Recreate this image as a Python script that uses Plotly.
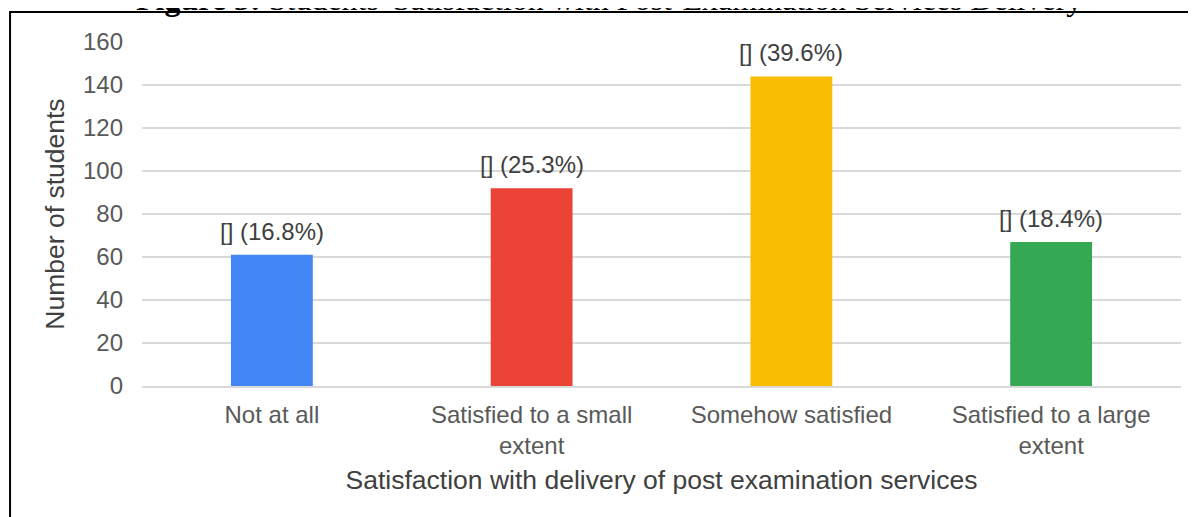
import plotly.graph_objects as go

categories = ["Not at all", "Satisfied to a small<br>extent", "Somehow satisfied", "Satisfied to a large<br>extent"]
counts = [61, 92, 144, 67]
percent_labels = ["[] (16.8%)", "[] (25.3%)", "[] (39.6%)", "[] (18.4%)"]
bar_colors = ["#4285F4", "#EA4335", "#FBBC04", "#34A853"]
y_ticks = [0, 20, 40, 60, 80, 100, 120, 140, 160]

fig = go.Figure()
fig.add_trace(go.Bar(x=categories, y=counts, marker=dict(color=bar_colors, line=dict(width=0)),
                     hoverinfo="skip"))

for c, v, t in zip(categories, counts, percent_labels):
    fig.add_annotation(x=c, y=v, text=t, showarrow=False, yanchor="bottom", yshift=8,
                       font=dict(family="Liberation Sans, Arial", size=24, color="#404040"))

fig.add_annotation(xref="paper", yref="paper", x=0.4495, y=1.068, yanchor="bottom", showarrow=False,
                   text="<b>Figure 5:</b> Students' Satisfaction with Post-Examination Services Delivery",
                   font=dict(family="Liberation Serif, Times New Roman, serif", size=32, color="#000000"))

fig.add_shape(type="rect", xref="paper", yref="paper", x0=-0.127, x1=1.2, y0=-0.6, y1=1.087,
              line=dict(color="#000000", width=2), fillcolor="rgba(0,0,0,0)", layer="below")

fig.update_layout(
    width=1188, height=509,
    margin=dict(l=134, r=15, t=34, b=131),
    paper_bgcolor="white", plot_bgcolor="white",
    bargap=0.685,
    showlegend=False,
    font=dict(family="Liberation Sans, Arial", size=24, color="#595959"),
    xaxis=dict(showgrid=False, showline=True, linecolor="#d9d9d9", linewidth=2, ticks="",
               ticklabelstandoff=6,
               tickfont=dict(size=24, color="#595959"),
               title=dict(text="Satisfaction with delivery of post examination services",
                          font=dict(size=26.5, color="#404040"), standoff=12)),
    yaxis=dict(range=[0, 160], tickvals=y_ticks, showgrid=True, gridcolor="#d9d9d9", gridwidth=2,
               zeroline=False, showline=False, ticks="", ticklabelstandoff=18,
               tickfont=dict(size=24, color="#595959"),
               title=dict(text="Number of students", font=dict(size=26.5, color="#404040"), standoff=10)),
)

fig.write_html("out.html")
